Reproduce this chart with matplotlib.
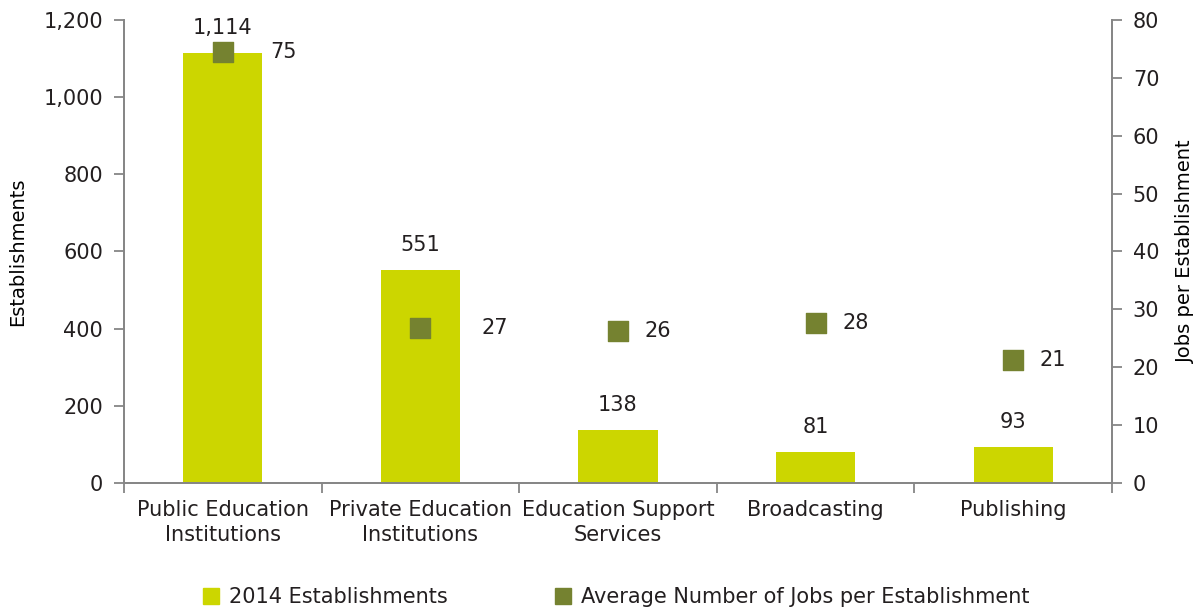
import matplotlib.pyplot as plt
from matplotlib.lines import Line2D
import numpy as np

# Data
categories = ['Public Education\nInstitutions', 'Private Education\nInstitutions',
              'Education Support\nServices', 'Broadcasting', 'Publishing']
establishments = [1114, 551, 138, 81, 93]
jobs_per_est = [74.5, 26.8, 26.3, 27.6, 21.3]
jobs_labels = ['75', '27', '26', '28', '21']
label_shift = [47, 61, 27, 27, 26]  # px right of marker centre, as in the source
series_names = ['2014 Establishments', 'Average Number of Jobs per Establishment']

bar_color = '#CCD600'
marker_color = '#758230'
axis_color = '#868686'
text_color = '#231F20'

plt.rcParams['font.family'] = ['DejaVu Sans']
plt.rcParams['font.size'] = 15
plt.rcParams['text.color'] = text_color

fig = plt.figure(figsize=(12.03, 6.12), dpi=100)
ax = fig.add_axes([124 / 1203, 1 - 483 / 612, (1112 - 124) / 1203, (483 - 20) / 612])
ax2 = ax.twinx()

x = np.arange(len(categories))
ax.bar(x, establishments, width=0.4, color=bar_color, zorder=2)
for xi, v in zip(x, establishments):
    ax.annotate(f'{v:,}', (xi, v), textcoords='offset pixels', xytext=(0, 15),
                ha='center', va='bottom')

ax2.scatter(x, jobs_per_est, marker='s', s=200, color=marker_color, zorder=3)
for xi, v, lab, dx in zip(x, jobs_per_est, jobs_labels, label_shift):
    ax2.annotate(lab, (xi, v), textcoords='offset pixels', xytext=(dx, 0),
                 ha='left', va='center')

ax.set_xlim(-0.5, len(categories) - 0.5)
ax.set_ylim(0, 1200)
ax2.set_ylim(0, 80)
ax.set_yticks(range(0, 1201, 200))
ax.set_yticklabels([f'{v:,}' for v in range(0, 1201, 200)])
ax2.set_yticks(range(0, 81, 10))

ax.set_xticks(x)
ax.set_xticklabels(categories, linespacing=1.35)
ax.tick_params(axis='x', length=0, pad=12, labelsize=15, labelcolor=text_color)
ax.set_xticks(np.arange(-0.5, len(categories)), minor=True)
ax.tick_params(axis='x', which='minor', length=7, color=axis_color, width=1.3)

for a in (ax, ax2):
    a.spines['top'].set_visible(False)
    for s in ('left', 'right', 'bottom'):
        a.spines[s].set_color(axis_color)
        a.spines[s].set_linewidth(1.3)
    a.tick_params(axis='y', length=7, color=axis_color, width=1.3,
                  labelsize=15, labelcolor=text_color, pad=8)

ax.set_ylabel('Establishments', fontsize=14, labelpad=12)
ax2.set_ylabel('Jobs per Establishment', fontsize=14, labelpad=12)

handles = [Line2D([], [], ls='none', marker='s', markersize=11.5, color=c)
           for c in (bar_color, marker_color)]
fig.legend(handles, series_names, loc='center', bbox_to_anchor=(616 / 1203, 1 - 597 / 612),
           ncol=2, frameon=False, fontsize=15, handlelength=0.8,
           columnspacing=5.1, handletextpad=0.5)

fig.savefig('out.png', dpi=100)
